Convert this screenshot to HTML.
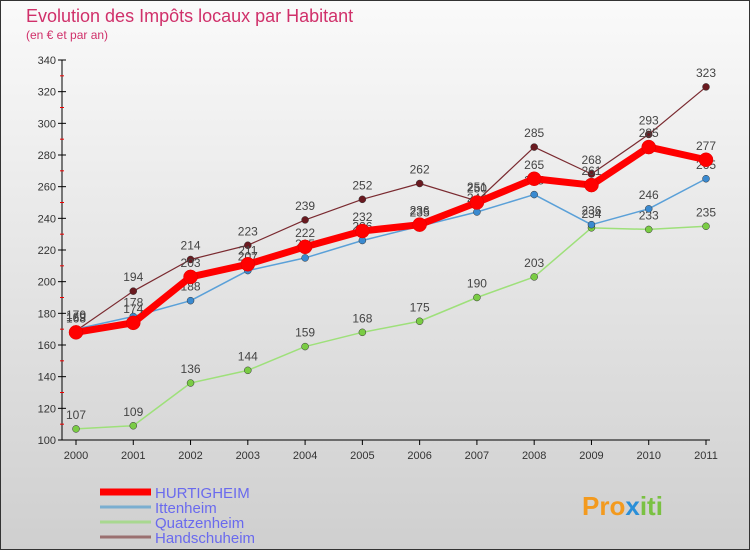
<!DOCTYPE html>
<html><head><meta charset="utf-8"><style>
body{margin:0;width:750px;height:550px;overflow:hidden;font-family:"Liberation Sans",sans-serif}
</style></head><body>
<svg id="c" width="750" height="550" xmlns="http://www.w3.org/2000/svg">
<defs>
<linearGradient id="bg" x1="0" y1="0" x2="0" y2="1"><stop offset="0" stop-color="#fafafa"/><stop offset="1" stop-color="#cfcfcf"/></linearGradient>
</defs>
<rect x="0.5" y="0.5" width="749" height="549" fill="url(#bg)" stroke="#333"/>
<text x="26" y="22" font-size="18" fill="#d0306a">Evolution des Impôts locaux par Habitant</text>
<text x="26" y="39" font-size="12" fill="#d0306a">(en € et par an)</text>
<g id="axes"></g><g id="series"></g><g id="legend"></g>
<text x="582" y="515" font-size="26" font-weight="bold" fill="#f39a1e">Pro<tspan fill="#2a8fd8">x</tspan><tspan fill="#7ac142">iti</tspan></text>
</svg>
<script>
const years=[2000,2001,2002,2003,2004,2005,2006,2007,2008,2009,2010,2011];
const yTicks=[100,120,140,160,180,200,220,240,260,280,300,320,340];
const hurtigheim=[168,174,203,211,222,232,236,250,265,261,285,277];
const ittenheim=[170,178,188,207,215,226,235,244,255,236,246,265];
const quatzenheim=[107,109,136,144,159,168,175,190,203,234,233,235];
const handschuheim=[169,194,214,223,239,252,262,251,285,268,293,323];
const NS="http://www.w3.org/2000/svg";
const x=i=>76+i*(630/11);
const y=v=>440-(v-100)*(380/240);
function mk(p,t,a){const e=document.createElementNS(NS,t);for(const k in a)e.setAttribute(k,a[k]);p.appendChild(e);return e;}
const ax=document.getElementById('axes');
let l=mk(ax,'line',{x1:62,y1:60,x2:62,y2:440,stroke:'#000'});


l=mk(ax,'line',{x1:62,y1:440,x2:710,y2:440,stroke:'#000'});


yTicks.forEach((v,i)=>{
 mk(ax,'line',{x1:58,y1:y(v),x2:66,y2:y(v),stroke:'#000'});
 if(i<yTicks.length-1)mk(ax,'line',{x1:60,y1:y(v+10),x2:64,y2:y(v+10),stroke:'#e00'});
 const t=mk(ax,'text',{x:56,y:y(v)+4,'font-size':11,'text-anchor':'end',fill:'#333'});t.textContent=v;
 
 
});
years.forEach((yr,i)=>{
 mk(ax,'line',{x1:x(i),y1:440,x2:x(i),y2:445,stroke:'#000'});
 const t=mk(ax,'text',{x:x(i),y:459,'font-size':11,'text-anchor':'middle',fill:'#333'});t.textContent=yr;
 
 
});
const S=[
 {n:'handschuheim',d:handschuheim,c:'#7a2a30',f:'#6a1a20',w:1.2,r:3.5},
 {n:'quatzenheim',d:quatzenheim,c:'#9ee07a',f:'#7acc44',w:1.5,r:3.5},
 {n:'ittenheim',d:ittenheim,c:'#5aa0d8',f:'#3a8ad0',w:1.5,r:3.5},
 {n:'hurtigheim',d:hurtigheim,c:'#f00',f:'#f00',w:7,r:7}];
const sg=document.getElementById('series');
[S[0],S[1],S[2],S[3]].forEach(s=>{
 const g=mk(sg,'g',{});
 
 
 mk(g,'polyline',{points:s.d.map((v,i)=>x(i)+','+y(v)).join(' '),fill:'none',stroke:s.c,'stroke-width':s.w,'stroke-linejoin':'round'});
 s.d.forEach((v,i)=>{
  const c=mk(g,'circle',{cx:x(i),cy:y(v),r:s.r,fill:s.f,stroke:s.n=='hurtigheim'?'#d00':'#333','stroke-width':0.5});
  
  
  const t=mk(g,'text',{x:x(i),y:y(v)-10,'font-size':12,'text-anchor':'middle',fill:'#444'});t.textContent=v;
  
  
 });
});
const lg=document.getElementById('legend');
const L=[['HURTIGHEIM','#f00',7],['Ittenheim','#7aaed0',3],['Quatzenheim','#a8d890',3],['Handschuheim','#9a7070',3]];
L.forEach((e,i)=>{
 const yy=492+i*15;
 const g=mk(lg,'g',{});
 
 
 mk(g,'line',{x1:100,y1:yy,x2:151,y2:yy,stroke:e[1],'stroke-width':e[2]});
 const t=mk(g,'text',{x:155,y:yy+6,'font-size':15,fill:'#6a6aee'});t.textContent=e[0];
});
</script>
</body></html>
